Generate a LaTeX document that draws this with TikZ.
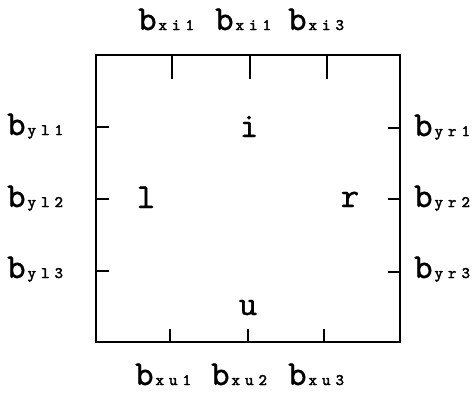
\documentclass[tikz,border=0pt]{standalone}
\usepackage{fontspec}
\newfontfamily\labfont[FakeBold=1]{lmmono10-regular.otf}
\newfontfamily\subfont[LetterSpace=32,FakeBold=2.5]{lmmono10-regular.otf}
\usepackage{tikz}
\usetikzlibrary{positioning}
\newcommand{\bsub}[1]{b\hspace{2pt}{\subfont\fontsize{16}{16}\selectfont #1}}

\begin{document}
\begin{tikzpicture}[x=1pt,y=-1pt,
    lab/.style={font=\labfont\fontsize{35}{35}\selectfont, inner sep=0pt, anchor=base west},
    side/.style={font=\labfont\fontsize{35}{35}\selectfont, inner sep=0pt, anchor=base},
    tick/.style={line width=2pt}]
        \useasboundingbox (0,0) rectangle (476,392);
        % Boundary square
        \draw[line width=2pt] (96,55) rectangle (400,342);
        % Ticks on the four sides
        \draw[tick] (172,55) -- (172,79);
        \draw[tick] (250,55) -- (250,79);
        \draw[tick] (327,55) -- (327,79);
        \draw[tick] (170,342) -- (170,329);
        \draw[tick] (248,342) -- (248,329);
        \draw[tick] (324,342) -- (324,329);
        \draw[tick] (96,127) -- (109,127);
        \draw[tick] (96,199) -- (109,199);
        \draw[tick] (96,271) -- (109,271);
        \draw[tick] (400,128) -- (388,128);
        \draw[tick] (400,199) -- (388,199);
        \draw[tick] (400,272) -- (388,272);
        % Boundary labels
        \node[lab] (xi1) at (138,30) {\bsub{xi1}};
        \node[lab] (xi2) at (215,30) {\bsub{xi1}};
        \node[lab] (xi3) at (288,30) {\bsub{xi3}};
        \node[lab] (yl1) at (7,135) {\bsub{yl1}};
        \node[lab] (yl2) at (7,207) {\bsub{yl2}};
        \node[lab] (yl3) at (7,278) {\bsub{yl3}};
        \node[lab] (yr1) at (414,136) {\bsub{yr1}};
        \node[lab] (yr2) at (414,207) {\bsub{yr2}};
        \node[lab] (yr3) at (414,278) {\bsub{yr3}};
        \node[lab] (xu1) at (135,385) {\bsub{xu1}};
        \node[lab] (xu2) at (211,385) {\bsub{xu2}};
        \node[lab] (xu3) at (288,385) {\bsub{xu3}};
        % Side names inside
        \node[side] (top) at (249,137) {i};
        \node[side] (left) at (146,208) {l};
        \node[side] (right) at (350,207) {r};
        \node[side] (bottom) at (248,315) {u};
      \end{tikzpicture}
\end{document}
